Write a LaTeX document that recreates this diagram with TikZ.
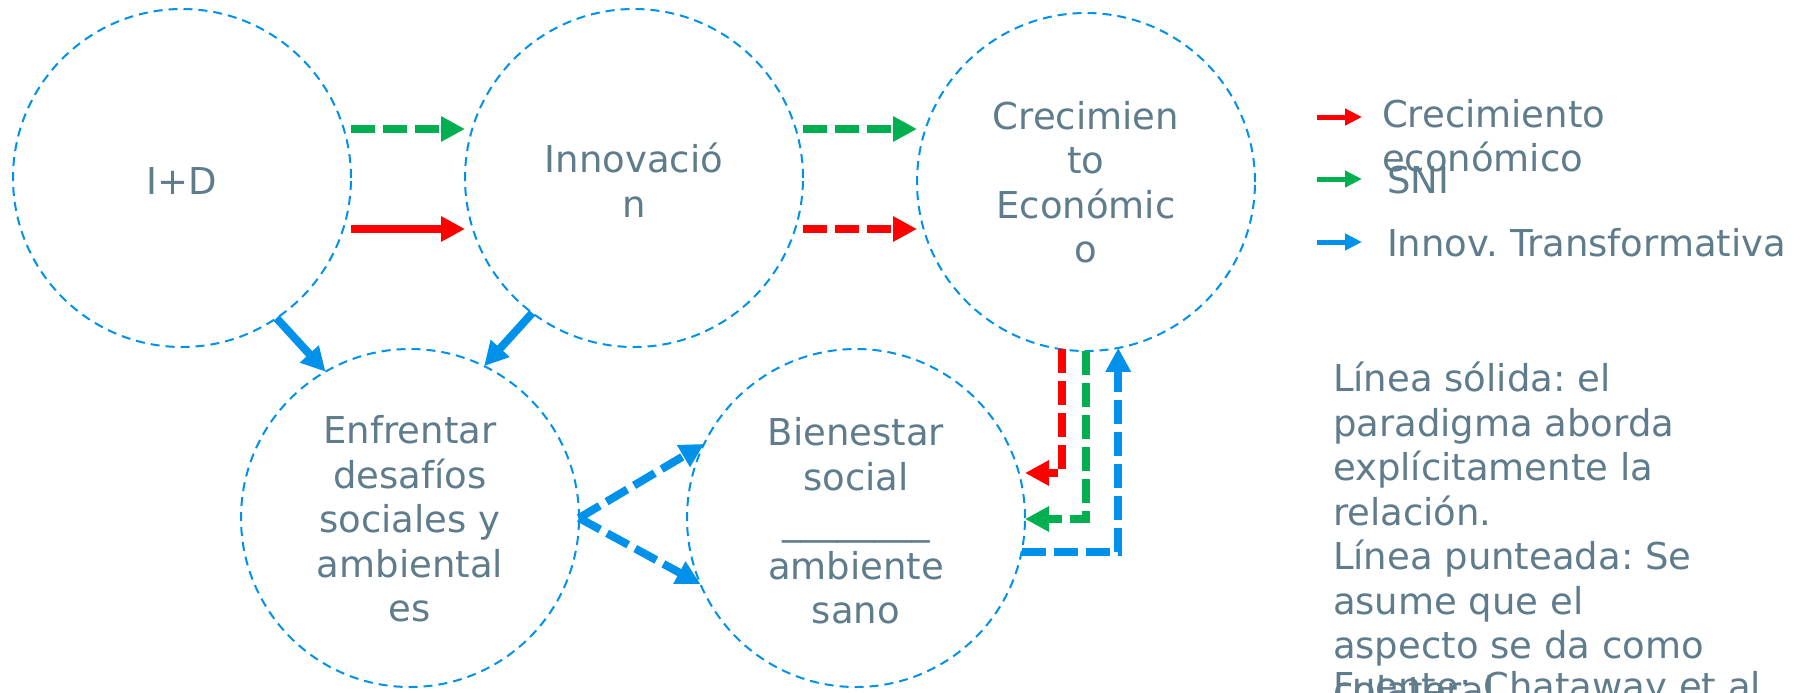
\documentclass[tikz,border=0pt]{standalone}
\usepackage{fontspec}
\setmainfont{DejaVu Sans}
\usetikzlibrary{arrows.meta}
\definecolor{txt}{HTML}{5E7C8B}
\definecolor{cblue}{HTML}{0092EA}
\definecolor{cgreen}{HTML}{00B050}
\definecolor{cred}{HTML}{FF0000}
\frenchspacing
\begin{document}
\begin{tikzpicture}[x=0.5pt,y=-0.5pt,
  circ/.style={circle, draw=cblue, line width=1pt, dash pattern=on 4.5pt off 3pt, minimum size=169pt, inner sep=0pt, outer sep=0pt},
  lbl/.style={text=txt, font=\fontsize{18.5}{22.25}\selectfont\frenchspacing, align=center, inner sep=0pt, outer sep=0pt},
  lbll/.style={lbl, align=left},
  arr/.style={line width=4pt, -{Triangle[length=12pt,width=12pt]}},
  dsh/.style={dash pattern=on 12pt off 4pt},
  legarr/.style={line width=2.5pt, -{Triangle[length=8.5pt,width=8pt]}}
]
\clip (0,0) rectangle (1804,692);
\fill[white] (0,0) rectangle (1804,692);
% circles
\node[circ] (id) at (182,178) {};
\node[circ] (inn) at (634,178) {};
\node[circ] (cre) at (1086,182) {};
\node[circ] (enf) at (410,518) {};
\node[circ] (bie) at (856,518) {};
% circle texts
\node[lbl] (tid) at (182,181) {I+D};
\node[lbl] (tinn) at (634,180) {Innovació\\n};
\node[lbl] (tcre) at (1086,182) {Crecimien\\to\\Económic\\o};
\node[lbl] (tenf) at (410,519) {Enfrentar\\desafíos\\sociales y\\ambiental\\es};
\node[lbl] (tbie) at (856,521) {Bienestar\\social\\\_\_\_\_\_\_\_\_\\ambiente\\sano};
% top arrows
\draw[arr, cgreen, dsh] ([yshift=24.5pt]id.east) -- ([yshift=24.5pt]inn.west);
\draw[arr, cred] ([yshift=-25.5pt]id.east) -- ([yshift=-25.5pt]inn.west);
\draw[arr, cgreen, dsh] ([yshift=24.5pt]inn.east) -- ([yshift=26.5pt]cre.west);
\draw[arr, cred, dsh] ([yshift=-25.5pt]inn.east) -- ([yshift=-23.5pt]cre.west);
% blue solid arrows
\draw[arr, cblue] (id.-56.6) -- (enf.120.1);
\draw[arr, cblue] (inn.-127.6) -- (enf.64.8);
% blue dashed arrows
\draw[arr, cblue, dsh] (enf.east) -- (bie.154.8);
\draw[arr, cblue, dsh] (enf.east) -- (bie.-157);
% right connectors
\draw[arr, cred, dsh] (cre.-98.85) |- ([yshift=22.5pt]bie.east);
\draw[arr, cgreen, dsh] (cre.-90.3) |- ([yshift=-0.5pt]bie.east);
\draw[arr, cblue, dsh] ([xshift=-1.5pt,yshift=-17pt]bie.east) -| (cre.-79.4);
% legend
\coordinate (l1a) at (1317,117); \coordinate (l1b) at (1362,117);
\coordinate (l2a) at (1317,179); \coordinate (l2b) at (1362,179);
\coordinate (l3a) at (1317,242); \coordinate (l3b) at (1362,242);
\draw[legarr, cred] (l1a) -- (l1b);
\draw[legarr, cgreen] (l2a) -- (l2b);
\draw[legarr, cblue] (l3a) -- (l3b);
\node[lbl, anchor=base west] (leg1) at (1382,127) {Crecimiento};
\node[lbl, anchor=base west] (leg1b) at (1382,171) {económico};
\node[lbl, anchor=base west] (leg2) at (1387,193) {SNI};
\node[lbl, anchor=base west] (leg3) at (1387,256) {Innov. Transformativa};
% notes
\node[lbll, anchor=north west] (note) at (1333,362) {Línea sólida: el\\paradigma aborda\\explícitamente la\\relación.\\Línea punteada: Se\\asume que el\\aspecto se da como\\colateral.};
\node[lbl, anchor=base west] (src) at (1333,699) {Fuente: Chataway et al};
\end{tikzpicture}
\end{document}
